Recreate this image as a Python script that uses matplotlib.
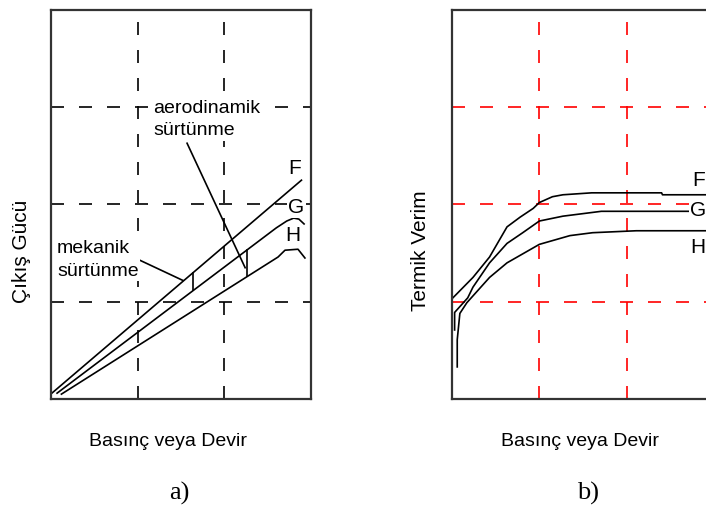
import matplotlib.pyplot as plt

plt.rcParams['font.family'] = ['Liberation Sans', 'DejaVu Sans']

# --- a) Cikis gucu: lines F, G, H ---
a_F_x = [0.01, 2.89]
a_F_y = [0.06, 2.25]
a_G_x = [0.07, 2.60, 2.72, 2.80, 2.86, 2.92]
a_G_y = [0.06, 1.76, 1.83, 1.86, 1.85, 1.80]
a_H_x = [0.12, 2.62, 2.70, 2.85, 2.93]
a_H_y = [0.05, 1.46, 1.53, 1.54, 1.45]

# friction bars (x, y_top, y_bottom)
mek_bar = (1.64, 1.30, 1.12)
aero_bar = (2.26, 1.53, 1.26)

# --- b) Termik verim ---
b_F_x = [0.01, 0.24, 0.43, 0.63, 0.78, 0.93, 1.00, 1.15, 1.27, 1.60, 2.40, 2.41, 3.00]
b_F_y = [1.04, 1.25, 1.46, 1.77, 1.87, 1.96, 2.02, 2.08, 2.10, 2.12, 2.12, 2.10, 2.10]
b_G_x = [0.03, 0.03, 0.09, 0.18, 0.24, 0.43, 0.63, 0.81, 1.00, 1.27, 1.71, 2.72]
b_G_y = [0.71, 0.89, 0.95, 1.04, 1.15, 1.40, 1.60, 1.71, 1.83, 1.88, 1.93, 1.93]
b_H_x = [0.06, 0.06, 0.09, 0.17, 0.43, 0.63, 1.00, 1.35, 1.61, 2.11, 3.00]
b_H_y = [0.33, 0.61, 0.88, 0.99, 1.25, 1.40, 1.59, 1.68, 1.71, 1.73, 1.73]

x_grid = [1, 2]
y_grid = [1, 2, 3]

W, H = 706, 511
fig = plt.figure(figsize=(W / 100, H / 100), dpi=100)

ax1 = fig.add_axes([51 / W, (H - 399) / H, 260 / W, 389 / H])
ax2 = fig.add_axes([452 / W, (H - 399) / H, 262 / W, 389 / H])

for ax, gcol in [(ax1, 'black'), (ax2, 'red')]:
    ax.set_xlim(0, 3)
    ax.set_ylim(0, 4)
    ax.set_xticks(x_grid)
    ax.set_yticks(y_grid)
    ax.tick_params(length=0, labelbottom=False, labelleft=False)
    ax.grid(True, color=gcol, lw=1.2, linestyle=(0, (7.8, 9.0)))
    ax.set_axisbelow(True)
    for s in ax.spines.values():
        s.set_color('#333333')
        s.set_linewidth(1.6)

line_kw = dict(color='black', lw=1.2)

# a)
ax1.plot(a_F_x, a_F_y, **line_kw)
ax1.plot(a_G_x, a_G_y, **line_kw)
ax1.plot(a_H_x, a_H_y, **line_kw)
ax1.plot([mek_bar[0]] * 2, mek_bar[1:], **line_kw)
ax1.plot([aero_bar[0]] * 2, aero_bar[1:], **line_kw)
ax1.plot([0.97, 1.52], [1.45, 1.22], **line_kw)
ax1.plot([1.57, 2.24], [2.63, 1.35], **line_kw)

box = dict(facecolor='white', edgecolor='none', pad=1)
ax1.text(0.07, 1.43, 'mekanik\nsürtünme', fontsize=14, ha='left', va='center',
         linespacing=1.4, bbox=box)
ax1.text(1.18, 2.87, 'aerodinamik\nsürtünme', fontsize=14, ha='left', va='center',
         linespacing=1.4, bbox=box)
ax1.text(2.81, 2.37, 'F', fontsize=15, ha='center', va='center')
ax1.text(2.83, 1.97, 'G', fontsize=15, ha='center', va='center', bbox=box)
ax1.text(2.79, 1.68, 'H', fontsize=15, ha='center', va='center')

# b)
ax2.plot(b_F_x, b_F_y, **line_kw)
ax2.plot(b_G_x, b_G_y, **line_kw)
ax2.plot(b_H_x, b_H_y, **line_kw)
ax2.text(2.82, 2.25, 'F', fontsize=15, ha='center', va='center')
ax2.text(2.82, 1.94, 'G', fontsize=15, ha='center', va='center', bbox=box)
ax2.text(2.82, 1.56, 'H', fontsize=15, ha='center', va='center')

# axis titles and panel letters
fig.text(22 / W, (H - 251) / H, 'Çıkış Gücü', rotation=90, fontsize=15,
         ha='center', va='center')
fig.text(421 / W, (H - 251) / H, 'Termik Verim', rotation=90, fontsize=15,
         ha='center', va='center')
fig.text(168 / W, (H - 441) / H, 'Basınç veya Devir', fontsize=14,
         ha='center', va='center')
fig.text(580 / W, (H - 441) / H, 'Basınç veya Devir', fontsize=14,
         ha='center', va='center')
fig.text(179 / W, (H - 493) / H, 'a)', fontsize=19, family='Liberation Serif',
         ha='center', va='center')
fig.text(588 / W, (H - 493) / H, 'b)', fontsize=19, family='Liberation Serif',
         ha='center', va='center')

fig.savefig('out.png', dpi=100)
